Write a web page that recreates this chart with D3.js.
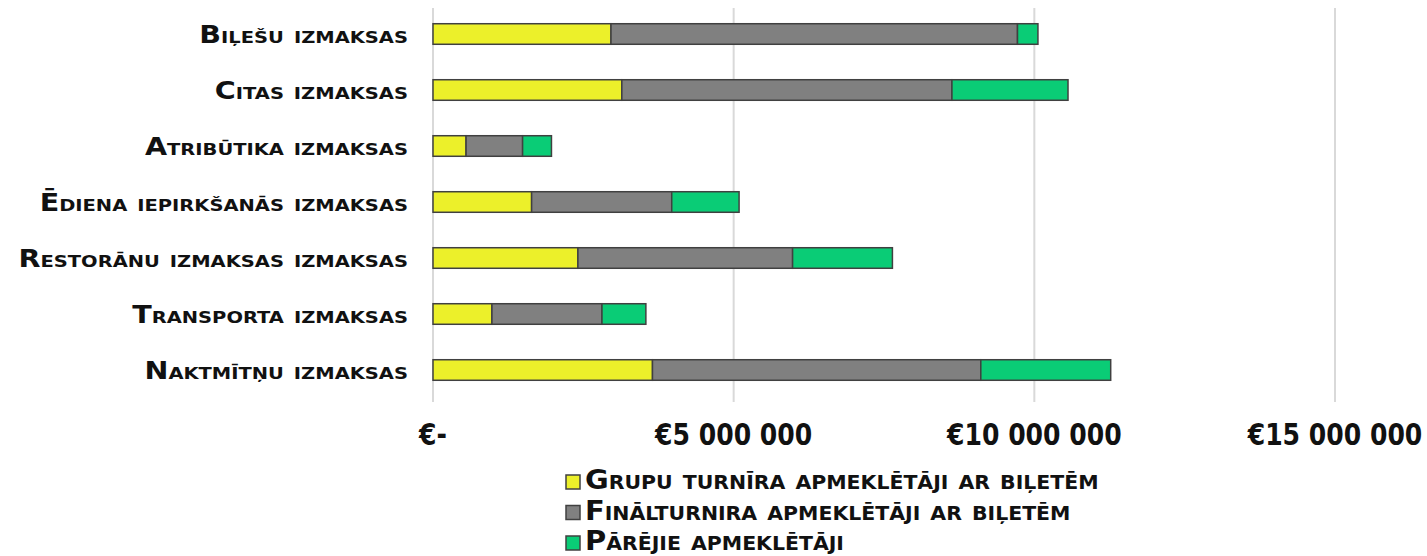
<!DOCTYPE html>
<html>
<head>
<meta charset="utf-8">
<script src="https://cdn.jsdelivr.net/npm/d3@7"></script>
<style>
  body { margin: 0; background: #fff; }
  svg text { font-family: "DejaVu Sans", Verdana, sans-serif; font-weight: bold; fill: #111; }
</style>
</head>
<body>
<div id="container"></div>
<script>
/* DATA */
const categories = [
  "Biļešu izmaksas",
  "Citas izmaksas",
  "Atribūtika izmaksas",
  "Ēdiena iepirkšanās izmaksas",
  "Restorānu izmaksas izmaksas",
  "Transporta izmaksas",
  "Naktmītņu izmaksas"
];
const seriesNames = [
  "Grupu turnīra apmeklētāji ar biļetēm",
  "Finālturnira apmeklētāji ar biļetēm",
  "Pārējie apmeklētāji"
];
// euro values
const groupStage = [2960000, 3140000, 550000, 1640000, 2410000, 980000, 3650000];
const finalStage = [6760000, 5490000, 940000, 2330000, 3570000, 1830000, 5460000];
const others     = [340000, 1930000, 480000, 1120000, 1660000, 730000, 2160000];
const tickValues = [0, 5000000, 10000000, 15000000];

/* CONSTANTS */
const width = 1427, height = 556;
const margin = { top: 6, left: 433, right: 92, bottom: 158 };
const colors = ["#ECF02A", "#808080", "#0ACC76"];

const rows = categories.map((c, i) => ({
  cat: c, s0: groupStage[i], s1: finalStage[i], s2: others[i]
}));
const stack = d3.stack().keys(["s0", "s1", "s2"])(rows);

/* SCALES */
const x = d3.scaleLinear()
  .domain([0, 15000000])
  .range([margin.left, width - margin.right]);

const y = d3.scaleBand()
  .domain(categories)
  .range([margin.top, height - margin.bottom])
  .paddingInner(0.633)
  .paddingOuter(0.3165);

const color = d3.scaleOrdinal().domain(["s0", "s1", "s2"]).range(colors);

/* SVG */
const svg = d3.select("#container").append("svg")
  .attr("width", width)
  .attr("height", height);

// gridlines
svg.append("g")
  .selectAll("line")
  .data(tickValues)
  .join("line")
  .attr("x1", d => x(d)).attr("x2", d => x(d))
  .attr("y1", margin.top + 2).attr("y2", height - margin.bottom + 4)
  .attr("stroke", "#d9d9d9")
  .attr("stroke-width", 2);

// bars
svg.append("g")
  .selectAll("g")
  .data(stack)
  .join("g")
  .attr("fill", d => color(d.key))
  .selectAll("rect")
  .data(d => d)
  .join("rect")
  .attr("x", d => x(d[0]))
  .attr("y", d => y(d.data.cat))
  .attr("width", d => x(d[1]) - x(d[0]))
  .attr("height", y.bandwidth())
  .attr("stroke", "#404040")
  .attr("stroke-width", 1.5);

// category labels (small caps, a bit wider than DejaVu)
svg.append("g")
  .selectAll("text")
  .data(categories)
  .join("text")
  .attr("transform", d => `translate(408,${y(d) + y.bandwidth() / 2 + 9}) scale(1.19,1)`)
  .attr("text-anchor", "end")
  .style("font-size", "24px")
  .style("font-variant", "small-caps")
  .text(d => d);

// x axis tick labels
const fmt = d => d === 0 ? "€-" : "€" + d3.format(",")(d).replace(/,/g, " ");
svg.append("g")
  .selectAll("text")
  .data(tickValues)
  .join("text")
  .attr("transform", d => `translate(${x(d)},445) scale(0.9,1)`)
  .attr("text-anchor", "middle")
  .style("font-family", "'DejaVu Sans Condensed', 'DejaVu Sans', sans-serif")
  .style("font-size", "31px")
  .text(fmt);

// legend
const legend = svg.append("g")
  .selectAll("g")
  .data(seriesNames)
  .join("g")
  .attr("transform", (d, i) => `translate(566,${482 + i * 30.5})`);

legend.append("rect")
  .attr("x", 0).attr("y", -7)
  .attr("width", 14).attr("height", 14)
  .attr("fill", (d, i) => colors[i])
  .attr("stroke", "#404040")
  .attr("stroke-width", 1.5);

legend.append("text")
  .attr("transform", "translate(19,7) scale(1.19,1)")
  .style("font-family", "'DejaVu Sans Condensed', 'DejaVu Sans', sans-serif")
  .style("font-size", "27px")
  .style("font-variant", "small-caps")
  .text(d => d);
</script>
</body>
</html>
